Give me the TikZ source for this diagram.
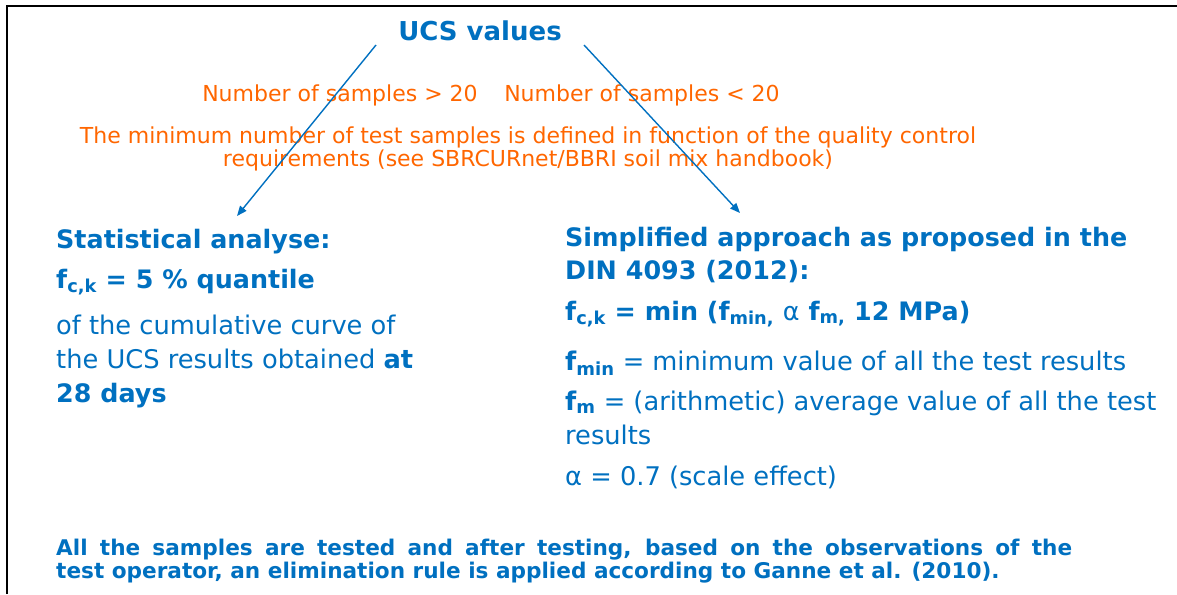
\documentclass[tikz,border=0pt]{standalone}
\usepackage{fontspec}
\setmainfont{DejaVu Sans}
\usetikzlibrary{arrows.meta}

\definecolor{ucsblue}{RGB}{0,112,192}
\definecolor{ucsorange}{RGB}{255,102,0}

\tikzset{
  txt/.style = {inner sep=0pt, anchor=base west},
  bluetxt/.style = {txt, text=ucsblue, font=\fontsize{25.7}{30}\selectfont},
  bluehead/.style = {txt, text=ucsblue, font=\fontsize{25.4}{30}\selectfont\bfseries},
  orangetxt/.style = {inner sep=0pt, anchor=base, text=ucsorange, font=\fontsize{22}{24}\selectfont},
  notetxt/.style = {txt, text=ucsblue, font=\fontsize{21.6}{23}\selectfont\bfseries},
  branch/.style = {draw=ucsblue, line width=1.4pt, -{Triangle[length=10pt,width=8pt]}},
}

\begin{document}
\begin{tikzpicture}[x=1pt, y=-1pt]
\useasboundingbox (0,0) rectangle (1177,594);
% frame
\draw[line width=2pt] (7,594) -- (7,6) -- (1177,6);

\node[inner sep=0pt, anchor=base, text=ucsblue, font=\fontsize{26}{30}\selectfont\bfseries] (ucs) at (480,41) {UCS values};

% conditions
\node[orangetxt] (more) at (340,101) {Number of samples > 20};
\node[orangetxt] (less) at (642,101) {Number of samples < 20};
\node[orangetxt] (min1) at (528,143) {The minimum number of test samples is defined in function of the quality control};
\node[orangetxt] (min2) at (528,166) {requirements (see SBRCURnet/BBRI soil mix handbook)};

% left branch
\node[bluehead] (stat) at (56,248) {Statistical analyse:};
\node[bluehead] (q5) at (56,288) {f\textsubscript{c,k} = 5 \% quantile};
\node[bluetxt] (cum1) at (56,334) {of the cumulative curve of};
\node[bluetxt] (cum2) at (56,368) {the UCS results obtained \textbf{at}};
\node[bluehead] (cum3) at (56,402) {28 days};

% right branch
\node[bluehead] (simp1) at (565,246) {Simplified approach as proposed in the};
\node[bluehead] (simp2) at (565,279) {DIN 4093 (2012):};
\node[bluehead] (fck) at (565,320) {f\textsubscript{c,k} = min (f\textsubscript{min,} \textmd{α} f\textsubscript{m,} 12 MPa)};
\node[bluetxt] (fmin) at (565,370) {\textbf{f\textsubscript{min}} = minimum value of all the test results};
\node[bluetxt] (fm) at (565,410) {\textbf{f\textsubscript{m}} = (arithmetic) average value of all the test};
\node[bluetxt] (res) at (565,444) {results};
\node[bluetxt] (alpha) at (565,485) {α = 0.7 (scale effect)};

% note
\node[notetxt] (note1) at (56,555) {\makebox[1016pt][s]{All the samples are tested and after testing, based on the observations of the}};
\node[notetxt] (note2) at (56,578) {test operator, an elimination rule is applied according to Ganne et al. (2010).};

\coordinate (l0) at (376,45);
\coordinate (l1) at (237,216);
\coordinate (r0) at (584,45);
\coordinate (r1) at (740,213);
\draw[branch] (l0) -- (l1);
\draw[branch] (r0) -- (r1);
\end{tikzpicture}
\end{document}
